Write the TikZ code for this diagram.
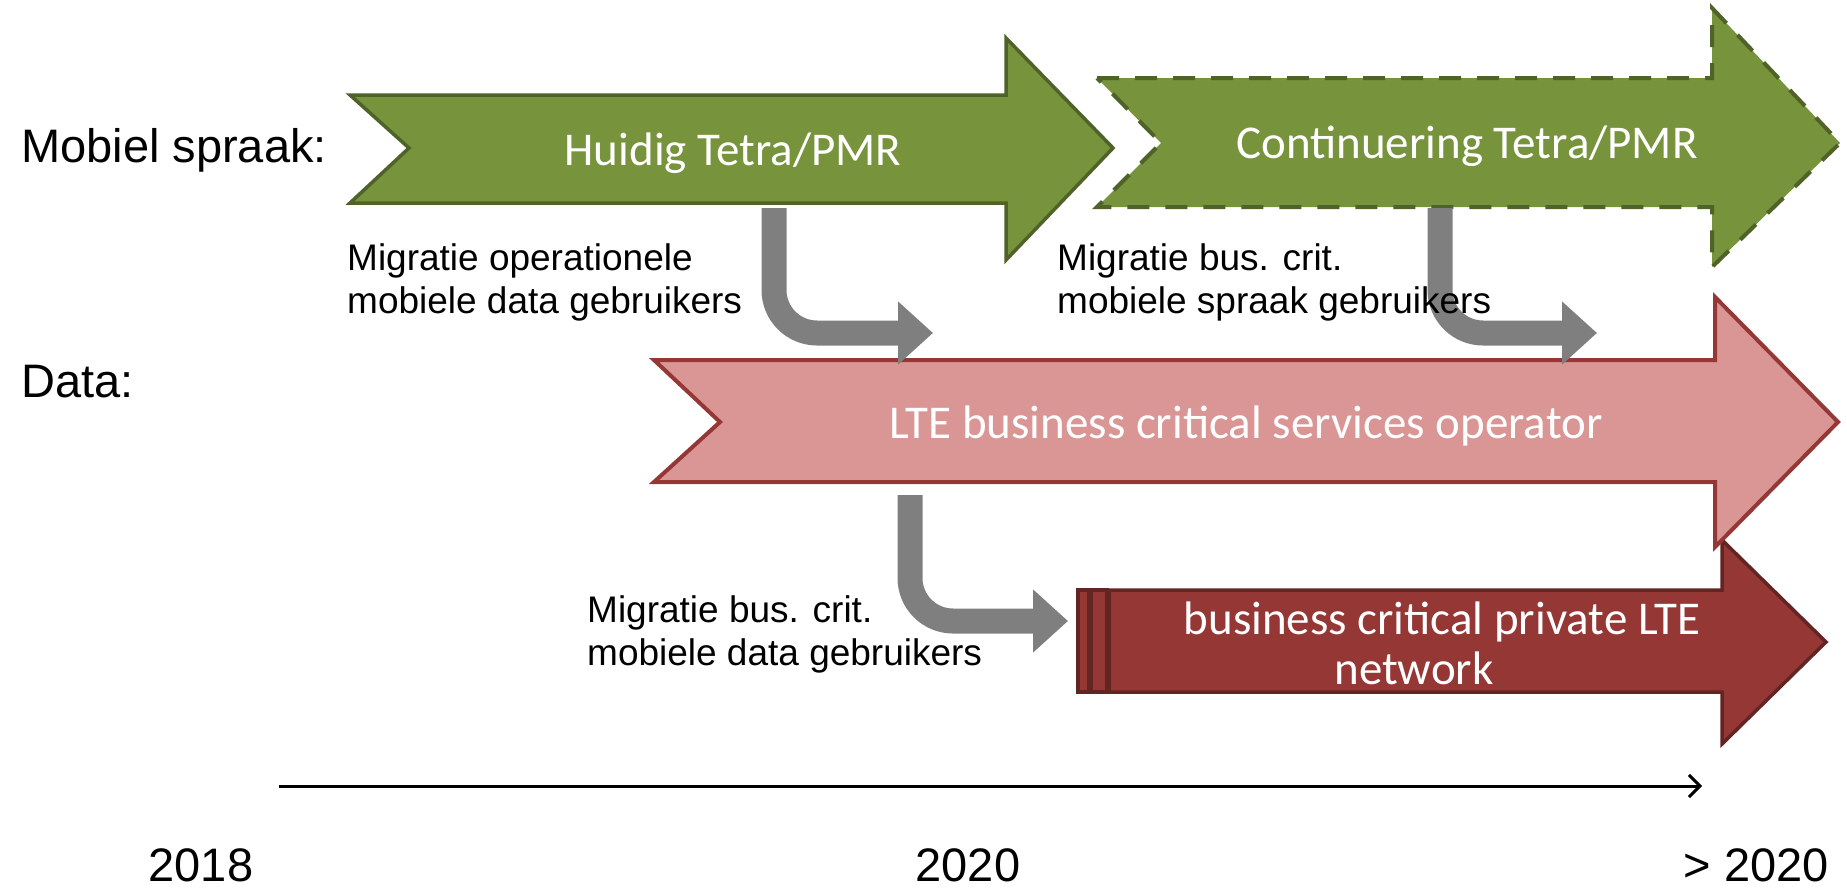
\documentclass[tikz,border=0pt]{standalone}
\usepackage{fontspec}
\setmainfont{Liberation Sans}
\newfontfamily\calib{Carlito}
\usetikzlibrary{arrows.meta}
\definecolor{tgreen}{HTML}{77933C}
\definecolor{tgreendark}{HTML}{4F6228}
\definecolor{tpink}{HTML}{D99694}
\definecolor{tred}{HTML}{953735}
\definecolor{tdark}{HTML}{632523}
\definecolor{tgray}{HTML}{7F7F7F}
\tikzset{
  greenshape/.style={fill=tgreen, draw=tgreendark, line width=3.5pt, line join=miter},
  dashedshape/.style={fill=tgreen, draw=tgreendark, line width=4pt, line join=miter, dash pattern=on 22pt off 16pt},
  pinkshape/.style={fill=tpink, draw=tred, line width=4pt, line join=miter},
  redshape/.style={fill=tred, draw=tdark, line width=3.5pt, line join=miter},
  bentarrow/.style={draw=tgray, line width=25pt, rounded corners=43pt, line cap=butt,
    -{Triangle[width=61pt,length=35pt]}},
  timeline/.style={draw=black, line width=3pt, -{Straight Barb[length=11pt,width=22pt,line width=3pt]}},
  whitetext/.style={text=white, font=\calib\fontsize{47}{50}\selectfont, inner sep=0pt},
  bigtext/.style={text=black, font=\fontsize{47}{56}\selectfont, inner sep=0pt},
  smalltext/.style={text=black, font=\fontsize{37}{43}\selectfont, inner sep=0pt, align=left}
}
\begin{document}
\begin{tikzpicture}[x=1pt,y=-1pt]
\useasboundingbox (0,0) rectangle (1847,892);

% row labels
\node[bigtext, anchor=base west] (mobiel) at (21,162) {Mobiel spraak:};
\node[bigtext, anchor=base west] (data) at (21,397) {Data:};

% Huidig Tetra/PMR
\draw[greenshape] (350,95) -- (1006,95) -- (1006,38) -- (1113,148) -- (1006,260)
  -- (1006,203) -- (350,203) -- (409,148) -- cycle;
\node[whitetext, anchor=base] (huidig) at (733,165) {Huidig Tetra/PMR};

% Continuering Tetra/PMR
\draw[dashedshape] (1097,78) -- (1712,78) -- (1712,8) -- (1840,143) -- (1712,267)
  -- (1712,207) -- (1097,207) -- (1161,143) -- cycle;
\node[whitetext, anchor=base] (cont) at (1467,158) {Continuering Tetra/PMR};

% business critical private LTE network
\draw[redshape] (1078,590) rectangle (1089,692);
\draw[redshape] (1091,590) rectangle (1107,692);
\draw[redshape] (1109,590) -- (1722,590) -- (1722,540) -- (1826,642) -- (1722,744)
  -- (1722,692) -- (1109,692) -- cycle;

% LTE business critical services operator
\draw[pinkshape] (654,360) -- (1715,360) -- (1715,297) -- (1838,422) -- (1715,547)
  -- (1715,482) -- (654,482) -- (720,422) -- cycle;
\node[whitetext, anchor=base] (lte) at (1246,438) {LTE business critical services operator};

\node[whitetext, anchor=base, align=center] (private) at (1442,684)
  {business critical private LTE\\network\hspace*{56pt}};

% bent grey arrows
\coordinate (g1s) at (774,208);
\coordinate (g1e) at (933,333);
\coordinate (g2s) at (1440,208);
\coordinate (g2e) at (1597,333);
\coordinate (g3s) at (910,495);
\coordinate (g3e) at (1068,621);
\draw[bentarrow] (g1s) |- (g1e);
\draw[bentarrow] (g2s) |- (g2e);
\draw[bentarrow] (g3s) |- (g3e);

% migration labels (base anchor = baseline of last line)
\node[smalltext, anchor=base west] (m1) at (347,313)
  {Migratie operationele\\mobiele data gebruikers};
\node[smalltext, anchor=base west] (m2) at (1057,313)
  {Migratie bus. crit.\\mobiele spraak gebruikers};
\node[smalltext, anchor=base west] (m3) at (587,665)
  {Migratie bus. crit.\\mobiele data gebruikers};

% timeline
\coordinate (t0) at (279,786);
\coordinate (t1) at (1702,786);
\draw[timeline] (t0) -- (t1);
\node[bigtext, anchor=base] (y2018) at (201,881) {2018};
\node[bigtext, anchor=base] (y2020) at (968,881) {2020};
\node[bigtext, anchor=base east] (y2020b) at (1829,881) {> 2020};
\end{tikzpicture}
\end{document}
